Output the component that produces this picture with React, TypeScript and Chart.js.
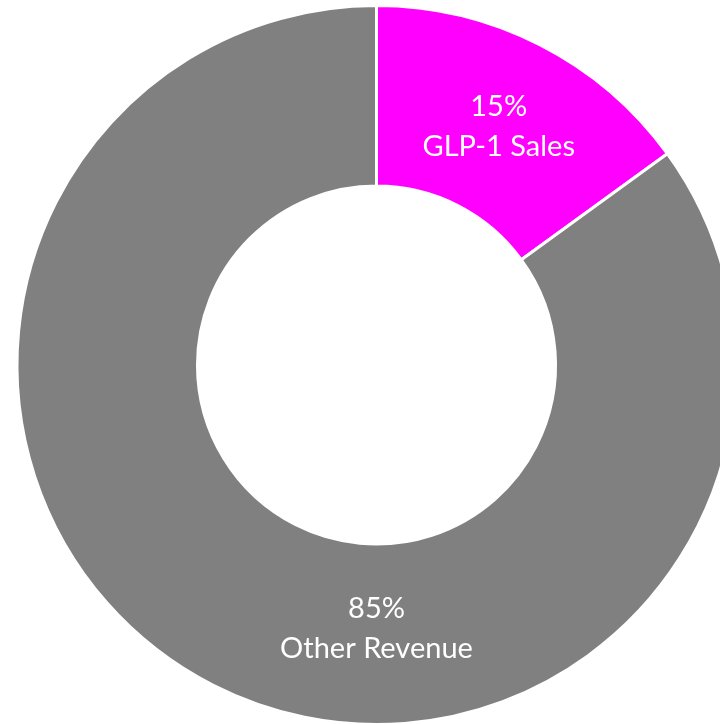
import React, { useEffect, useRef } from "react";
import { Chart, registerables } from "chart.js";

Chart.register(...registerables);

const categories = ["GLP-1 Sales", "Other Revenue"];
const shares = [15, 85];
const percentLabels = ["15%", "85%"];
const sliceColors = ["#FF00FF", "#808080"];
// label anchor angle (degrees clockwise from top); null = middle of the slice
const labelAngles: (number | null)[] = [null, 180];
const labelRadiusFactor = [1, 0.973];

const labelPlugin = {
  id: "sliceLabels",
  afterDatasetsDraw(chart: any) {
    const meta = chart.getDatasetMeta(0);
    const ctx = chart.ctx;
    ctx.save();
    ctx.fillStyle = "#FFFFFF";
    ctx.textAlign = "center";
    ctx.textBaseline = "alphabetic";
    ctx.font = "29px Lato, 'Open Sans', sans-serif";
    meta.data.forEach((arc: any, i: number) => {
      const { x, y, startAngle, endAngle, innerRadius, outerRadius } = arc.getProps(
        ["x", "y", "startAngle", "endAngle", "innerRadius", "outerRadius"],
        true
      );
      const mid =
        labelAngles[i] === null
          ? (startAngle + endAngle) / 2
          : ((labelAngles[i] as number) - 90) * (Math.PI / 180);
      const r = ((innerRadius + outerRadius) / 2) * labelRadiusFactor[i];
      const ax = x + Math.cos(mid) * r;
      const ay = y + Math.sin(mid) * r;
      ctx.fillText(percentLabels[i], ax, ay - 9);
      ctx.fillText(categories[i], ax, ay + 31);
    });
    ctx.restore();
  },
};

export default function App() {
  const canvasRef = useRef<HTMLCanvasElement | null>(null);

  useEffect(() => {
    if (!canvasRef.current) return;
    const chart = new Chart(canvasRef.current, {
      type: "doughnut",
      data: {
        labels: categories,
        datasets: [
          {
            data: shares,
            backgroundColor: sliceColors,
            borderColor: "#FFFFFF",
            borderWidth: 3,
          },
        ],
      },
      options: {
        responsive: false,
        animation: false,
        radius: 359.5,
        cutout: "49.8%",
        layout: { padding: 0 },
        plugins: {
          legend: { display: false },
          tooltip: { enabled: false },
        },
      },
      plugins: [labelPlugin],
    });
    return () => chart.destroy();
  }, []);

  return (
    <div
      style={{
        position: "fixed",
        left: 0,
        top: 0,
        width: 720,
        height: 724,
        overflow: "hidden",
        background: "#FFFFFF",
      }}
    >
      <canvas
        ref={canvasRef}
        width={753}
        height={730}
        style={{ position: "absolute", left: 0, top: 0, width: 753, height: 730 }}
      />
    </div>
  );
}
